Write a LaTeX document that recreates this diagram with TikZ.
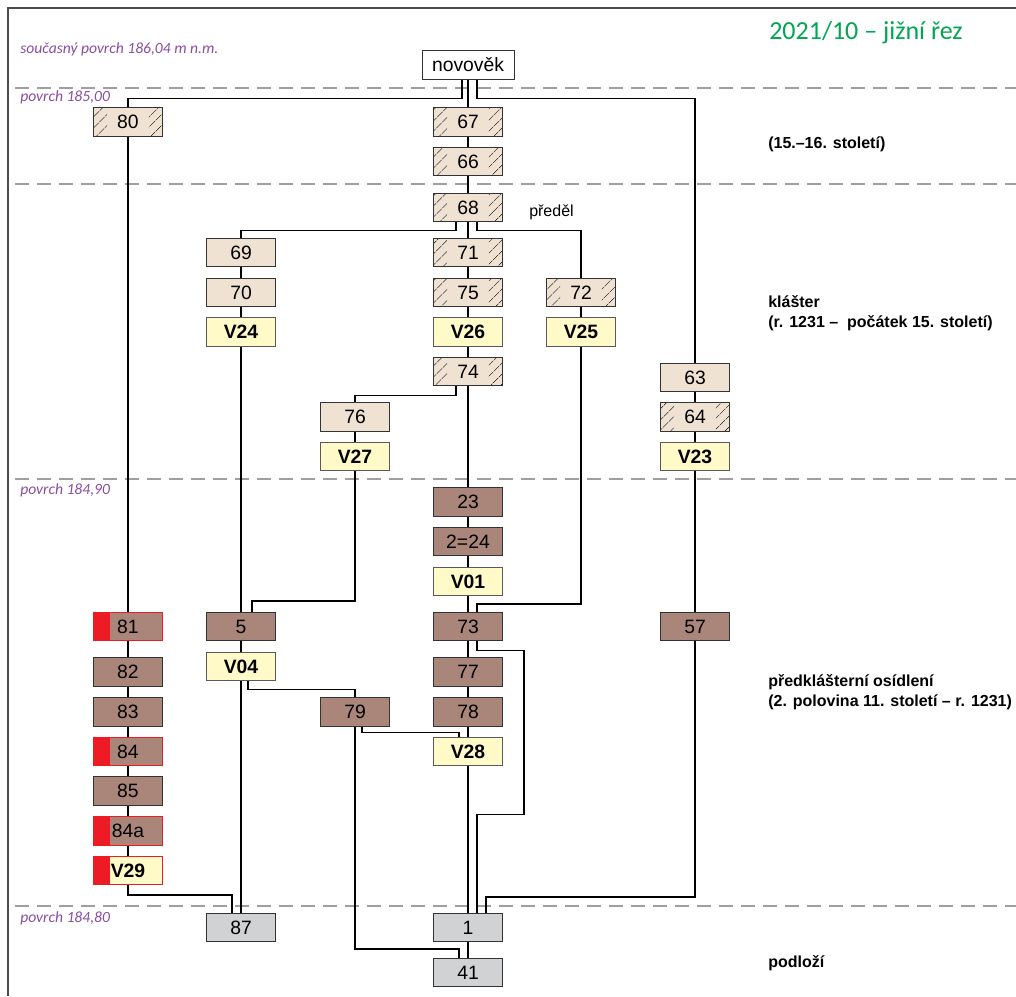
\documentclass[tikz,border=0pt]{standalone}
\usepackage{fontspec}
\setmainfont{Liberation Sans}
\newfontfamily\myr{Carlito}
\usetikzlibrary{patterns.meta}
\definecolor{beige}{RGB}{240,226,210}
\definecolor{soil}{RGB}{170,133,121}
\definecolor{pale}{RGB}{255,250,200}
\definecolor{stone}{RGB}{209,210,212}
\definecolor{redbar}{RGB}{237,28,36}
\definecolor{level}{RGB}{139,77,160}
\definecolor{ttl}{RGB}{0,166,81}

\begin{document}
\begin{tikzpicture}[x=0.75pt,y=-0.75pt]
  \tikzstyle box=[draw=black!80,line width=0.7pt,minimum width=51.4pt,minimum height=21.4pt,inner sep=0pt,font=\fontsize{14.5}{16}\selectfont];
  \tikzstyle lt=[box,fill=beige];
  \tikzstyle ht=[lt,path picture={
      \path[pattern={Lines[angle=45,distance=6.5pt,line width=0.6pt]},pattern color=black!85]
        (path picture bounding box.south west) rectangle ([xshift=10pt]path picture bounding box.north west)
        (path picture bounding box.north east) rectangle ([xshift=-10pt]path picture bounding box.south east);}];
  \tikzstyle dk=[box,fill=soil];
  \tikzstyle yl=[box,fill=pale,draw=black!65,font=\fontsize{14.5}{16}\selectfont\bfseries];
  \tikzstyle gr=[box,fill=stone];
  \tikzstyle rd=[draw=redbar,path picture={\fill[redbar] (path picture bounding box.south west) rectangle ([xshift=12pt]path picture bounding box.north west);}];
  \tikzstyle ln=[line width=1.1pt];
  \tikzstyle lv=[dashed,dash pattern=on 10.5pt off 6pt,gray!75,line width=0.8pt];
  \tikzstyle pv=[anchor=base west,inner sep=0pt,text=level,font=\myr\fontsize{11.7}{13}\selectfont\itshape];
  \tikzstyle ep=[anchor=base west,inner sep=0pt,font=\fontsize{12}{14}\selectfont\bfseries];
  \def\xa{128}
  \def\xb{241}
  \def\xc{355}
  \def\xd{468}
  \def\xe{581}
  \def\xf{695}

  \useasboundingbox (0,0) rectangle (1016,996);

  % frame and levels
  \draw[black!70,line width=0.8pt] (8,996) -- (8,8) -- (1016,8);
  \foreach \y in {88,184,479,906} \draw[lv] (15,\y) -- (1016,\y);

  % texts
  \node[anchor=base west,inner sep=0pt,text=ttl,font=\myr\fontsize{19.5}{22}\selectfont] (title) at (769,39) {2021/10 – jižní řez};
  \node[pv] (p0) at (20,53) {současný povrch 186,04 m n.m.};
  \node[pv] (p1) at (20,101) {povrch 185,00};
  \node[pv] (p2) at (20,494) {povrch 184,90};
  \node[pv] (p3) at (20,922) {povrch 184,80};
  \node[ep] (e1) at (768,148) {(15.–16. století)};
  \node[ep] (e2) at (768,307) {klášter};
  \node[ep] (e3) at (768,327) {(r. 1231 –\ \ počátek 15. století)};
  \node[ep] (e4) at (768,686) {předklášterní osídlení};
  \node[ep] (e5) at (768,706) {(2. polovina 11. století – r. 1231)};
  \node[ep] (e6) at (768,967) {podloží};
  \node[anchor=base west,inner sep=0pt,font=\fontsize{12}{14}\selectfont] (pd) at (529,216) {předěl};

  % units
  \node[box,fill=white,minimum width=69pt] (nov) at (\xd,65) {novověk};
  \node[ht] (n80) at (\xa,122) {80};
  \node[ht] (n67) at (\xd,122) {67};
  \node[ht] (n66) at (\xd,161.5) {66};
  \node[ht] (n68) at (\xd,207.5) {68};
  \node[lt] (n69) at (\xb,252.5) {69};
  \node[ht] (n71) at (\xd,252.5) {71};
  \node[lt] (n70) at (\xb,292.5) {70};
  \node[ht] (n75) at (\xd,292.5) {75};
  \node[ht] (n72) at (\xe,292.5) {72};
  \node[yl] (nV24) at (\xb,332) {V24};
  \node[yl] (nV26) at (\xd,332) {V26};
  \node[yl] (nV25) at (\xe,332) {V25};
  \node[ht] (n74) at (\xd,371.5) {74};
  \node[lt] (n63) at (\xf,377.5) {63};
  \node[lt] (n76) at (\xc,417) {76};
  \node[ht] (n64) at (\xf,417) {64};
  \node[yl] (nV27) at (\xc,456.5) {V27};
  \node[yl] (nV23) at (\xf,456.5) {V23};
  \node[dk] (n23) at (\xd,502) {23};
  \node[dk] (n224) at (\xd,541.5) {2=24};
  \node[yl] (nV01) at (\xd,581.5) {V01};
  \node[dk,rd] (n81) at (\xa,626.5) {81};
  \node[dk] (n5) at (\xb,626.5) {5};
  \node[dk] (n73) at (\xd,626.5) {73};
  \node[dk] (n57) at (\xf,626.5) {57};
  \node[dk] (n82) at (\xa,672) {82};
  \node[yl] (nV04) at (\xb,666.5) {V04};
  \node[dk] (n77) at (\xd,672) {77};
  \node[dk] (n83) at (\xa,712) {83};
  \node[dk] (n79) at (\xc,712) {79};
  \node[dk] (n78) at (\xd,712) {78};
  \node[dk,rd] (n84) at (\xa,751.5) {84};
  \node[yl] (nV28) at (\xd,751.5) {V28};
  \node[dk] (n85) at (\xa,791) {85};
  \node[dk,rd] (n84a) at (\xa,831) {84a};
  \node[yl,rd] (nV29) at (\xa,870.5) {V29};
  \node[gr] (n87) at (\xb,927.5) {87};
  \node[gr] (n1) at (\xd,927.5) {1};
  \node[gr] (n41) at (\xd,972.5) {41};

  % links
  \draw[ln] ([xshift=-4.5pt]nov.south) -- ++(0,19) -| (n80.north);
  \draw[ln] (nov.south) -- (n67.north);
  \draw[ln] ([xshift=6.75pt]nov.south) -- ++(0,19) -| (n63.north);
  \draw[ln] (n67) -- (n66) -- (n68);
  \draw[ln] ([xshift=-9pt]n68.south) -- ++(0,8) -| (n69.north);
  \draw[ln] ([xshift=6.75pt]n68.south) -- ++(0,8) -| (n72.north);
  \draw[ln] (n68) -- (n71) -- (n75) -- (nV26) -- (n74);
  \draw[ln] (n69) -- (n70) -- (nV24);
  \draw[ln] (n72) -- (nV25);
  \draw[ln] ([xshift=-9pt]n74.south) -- ++(0,9) -| (n76.north);
  \draw[ln] (n74) -- (n23);
  \draw[ln] (n76) -- (nV27);
  \draw[ln] (n63) -- (n64) -- (nV23) -- (n57);
  \draw[ln] (n23) -- (n224) -- (nV01) -- (n73);
  \draw[ln] (nV25.south) |- ([xshift=6.75pt,yshift=6pt]n73.north) -- ([xshift=6.75pt]n73.north);
  \draw[ln] (nV27.south) |- ([xshift=8.25pt,yshift=8.25pt]n5.north) -- ([xshift=8.25pt]n5.north);
  \draw[ln] (nV24) -- (n5) -- (nV04) -- (n87);
  \draw[ln] ([xshift=5.25pt]nV04.south) -- ++(0,8) -| (n79.north);
  \draw[ln] (n80) -- (n81) -- (n82) -- (n83) -- (n84) -- (n85) -- (n84a) -- (nV29);
  \draw[ln] (nV29.south) |- ([xshift=-6.75pt,yshift=13.5pt]n87.north) -- ([xshift=-6.75pt]n87.north);
  \draw[ln] (n73) -- (n77) -- (n78) -- (nV28) -- (n1) -- (n41);
  \draw[ln] ([xshift=6.75pt]n73.south) -- ++(0,9) -- ++(47,0) -- ++(0,164) -- ++(-47,0) -- ([xshift=6.75pt]n1.north);
  \draw[ln] (n57.south) |- ([xshift=13.5pt,yshift=12pt]n1.north) -- ([xshift=13.5pt]n1.north);
  \draw[ln] ([xshift=5.25pt]n79.south) -- ++(0,6) -| ([xshift=-6.75pt]nV28.north);
  \draw[ln] (n79.south) |- ([xshift=-6.75pt,yshift=6.75pt]n41.north) -- ([xshift=-6.75pt]n41.north);
\end{tikzpicture}
\end{document}
